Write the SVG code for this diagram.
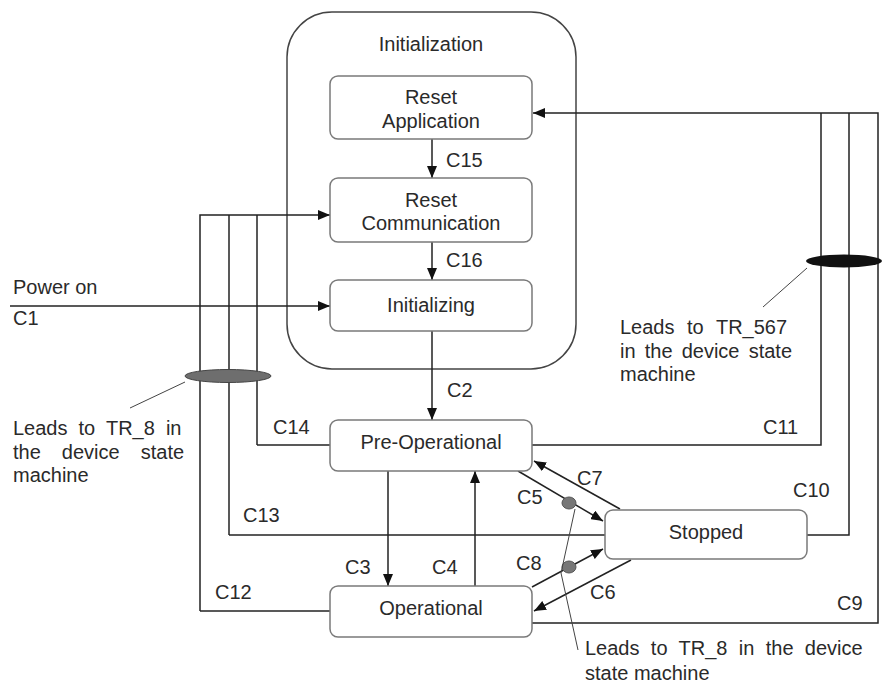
<svg xmlns="http://www.w3.org/2000/svg" width="882" height="691" viewBox="0 0 882 691">
<style>
text{font-family:"Liberation Sans",Arial,sans-serif;font-size:20px;fill:#2a2a2a}
.c{text-anchor:middle}
.box{fill:#fff;stroke:#7a7a7a;stroke-width:1.5}
.ln{fill:none;stroke:#222;stroke-width:1.5}
.thin{fill:none;stroke:#444;stroke-width:1}
</style>
<defs>
<marker id="ah" viewBox="0 0 12 10" refX="12" refY="5" markerWidth="12" markerHeight="10" markerUnits="userSpaceOnUse" orient="auto">
<path d="M0,0 L12,5 L0,10 z" fill="#111"/>
</marker>
</defs>
<rect width="882" height="691" fill="#fff"/>

<g id="initialization">
<rect x="287" y="12" width="289" height="357" rx="45" ry="45" fill="none" stroke="#444" stroke-width="1.5"/>
<text class="c" x="431" y="51">Initialization</text>
</g>

<g id="connectors">
<path class="ln" d="M432,139 V178" marker-end="url(#ah)"/>
<path class="ln" d="M432,242 V280" marker-end="url(#ah)"/>
<path class="ln" d="M432,331 V420" marker-end="url(#ah)"/>
<path class="ln" d="M10,306 H330" marker-end="url(#ah)"/>
<path class="ln" d="M200,611 V215 H330" marker-end="url(#ah)"/>
<path class="ln" d="M229,535 V215"/>
<path class="ln" d="M257,445 V215"/>
<path class="ln" d="M330,445 H257"/>
<path class="ln" d="M605,535 H229"/>
<path class="ln" d="M330,611 H200"/>
<path class="ln" d="M388,471 V586" marker-end="url(#ah)"/>
<path class="ln" d="M475,586 V471" marker-end="url(#ah)"/>
<path class="ln" d="M518,471 L603,521" marker-end="url(#ah)"/>
<path class="ln" d="M620,509 L534,461" marker-end="url(#ah)"/>
<path class="ln" d="M532,587 L603,549" marker-end="url(#ah)"/>
<path class="ln" d="M631,560 L534,611" marker-end="url(#ah)"/>
<path class="ln" d="M532,445 H821 V113"/>
<path class="ln" d="M807,535 H849 V113"/>
<path class="ln" d="M532,623 H878 V113 H533" marker-end="url(#ah)"/>
</g>

<g id="reset-application">
<rect class="box" x="330" y="76" width="202" height="63" rx="8"/>
<text class="c" x="431" y="104">Reset</text>
<text class="c" x="431" y="128">Application</text>
</g>
<g id="reset-communication">
<rect class="box" x="330" y="178" width="202" height="64" rx="8"/>
<text class="c" x="431" y="207">Reset</text>
<text class="c" x="431" y="230">Communication</text>
</g>
<g id="initializing">
<rect class="box" x="330" y="280" width="202" height="51" rx="8"/>
<text class="c" x="431" y="312">Initializing</text>
</g>
<g id="pre-operational">
<rect class="box" x="330" y="420" width="202" height="51" rx="8"/>
<text class="c" x="431" y="449">Pre-Operational</text>
</g>
<g id="operational">
<rect class="box" x="330" y="586" width="202" height="51" rx="8"/>
<text class="c" x="431" y="615">Operational</text>
</g>
<g id="stopped">
<rect class="box" x="605" y="510" width="202" height="49" rx="8"/>
<text class="c" x="706" y="539">Stopped</text>
</g>

<g id="labels">
<text x="13" y="294">Power on</text>
<text x="13" y="325">C1</text>
<text x="446" y="167">C15</text>
<text x="446" y="267">C16</text>
<text x="447" y="397">C2</text>
<text x="273" y="434">C14</text>
<text x="243" y="522">C13</text>
<text x="215" y="599">C12</text>
<text x="345" y="574">C3</text>
<text x="432" y="574">C4</text>
<text x="517" y="504">C5</text>
<text x="577" y="485">C7</text>
<text x="516" y="570">C8</text>
<text x="590" y="599">C6</text>
<text x="763" y="434">C11</text>
<text x="793" y="497">C10</text>
<text x="837" y="610">C9</text>
</g>

<g id="note-left">
<ellipse cx="228" cy="376" rx="43" ry="6.5" fill="#6e6e6e" stroke="#444" stroke-width="1"/>
<path class="thin" d="M185,382 L130,408"/>
<text x="13" y="435" word-spacing="5.5">Leads to TR_8 in</text>
<text x="13" y="459" word-spacing="15.5">the device state</text>
<text x="13" y="482">machine</text>
</g>

<g id="note-right">
<ellipse cx="844" cy="261" rx="38" ry="6.5" fill="#111"/>
<path class="thin" d="M807,268 L763,307"/>
<text x="620" y="334" word-spacing="7">Leads to TR_567</text>
<text x="620" y="358" word-spacing="3.6">in the device state</text>
<text x="620" y="381">machine</text>
</g>

<g id="note-bottom">
<ellipse cx="569" cy="503" rx="7" ry="6" fill="#777" stroke="#555" stroke-width="1"/>
<ellipse cx="569" cy="567" rx="7" ry="6" fill="#777" stroke="#555" stroke-width="1"/>
<path class="thin" d="M575,509 L561,573 L578,650"/>
<text x="585" y="655" word-spacing="5.8">Leads to TR_8 in the device</text>
<text x="585" y="680">state machine</text>
</g>
</svg>
